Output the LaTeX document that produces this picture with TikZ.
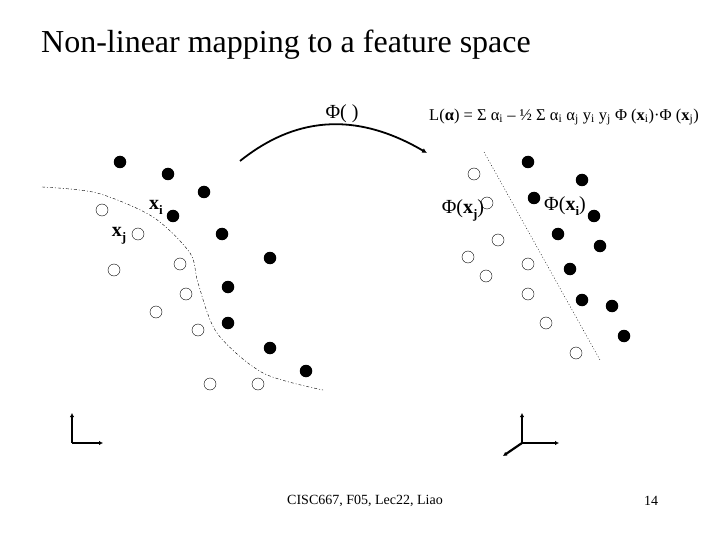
\documentclass[tikz,border=0pt]{standalone}
\usepackage{fontspec}
\setmainfont{Liberation Serif}
\usetikzlibrary{positioning,arrows.meta}

\begin{document}
\begin{tikzpicture}[x=1pt,y=-1pt,
  posdot/.style={circle,fill=black,inner sep=0pt,minimum size=12.5pt},
  negdot/.style={circle,draw=black,fill=white,thin,inner sep=0pt,minimum size=12pt},
  lbl/.style={font=\fontsize{20}{24}\selectfont,inner sep=0pt},
  axis/.style={line width=2.2pt,-{Latex[length=4pt,width=4.5pt]}}]
\useasboundingbox[fill=white] (0,0) rectangle (720,540);
\node[font=\fontsize{32}{38}\selectfont] (title) at (286,45) {Non-linear mapping to a feature space};
\node[lbl] (phimap) at (342,114) {Φ( )};
\node[font=\fontsize{16.5}{20}\selectfont] (lagr) at (564,117) {L(\textbf{α}) = Σ α\textsubscript{i} – ½ Σ α\textsubscript{i} α\textsubscript{j} y\textsubscript{i} y\textsubscript{j} Φ (\textbf{x}\textsubscript{i})·Φ (\textbf{x}\textsubscript{j})};
\coordinate (mapstart) at (240,161);
\coordinate (mapend) at (427,153);
\draw[line width=1.8pt,-{Latex[length=5pt,width=5pt]}] (mapstart) .. controls (285,125) and (345,105) .. (mapend);
\draw[thin,dash pattern=on 3pt off 2pt on 1pt off 2pt] plot[smooth] coordinates {(42,187) (97,193) (153,217) (190,253) (198,283) (217,333) (263,373) (323,390)};
\coordinate (sepa) at (484,152);
\coordinate (sepb) at (600,360);
\draw[thin,dash pattern=on 1pt off 2pt] (sepa) -- (sepb);
\foreach \x/\y [count=\n] in {120/162,168/174,204/192,173/216,222/234,270/258,228/287,228/323,270/348,306/371}
  \node[posdot] (p\n) at (\x,\y) {};
\foreach \x/\y [count=\n] in {102/210,138/234,114/270,180/264,186/294,156/312,198/330,210/384,258/384}
  \node[negdot] (q\n) at (\x,\y) {};
\foreach \x/\y [count=\n] in {528/162,582/180,534/198,594/216,558/234,600/246,570/269,582/300,612/306,624/336}
  \node[posdot] (fp\n) at (\x,\y) {};
\foreach \x/\y [count=\n] in {474/174,487/203,498/240,468/257,486/276,528/264,528/294,546/323,576/353}
  \node[negdot] (fq\n) at (\x,\y) {};
\node[lbl] (xi) at (156,207) {\textbf{x}\raisebox{-5pt}{\fontsize{13}{15}\selectfont\textbf{i}}};
\node[lbl] (xj) at (119,236) {\textbf{x}\raisebox{-5pt}{\fontsize{13}{15}\selectfont\textbf{j}}};
\node[lbl] (phixj) at (463,210) {Φ(\textbf{x}\raisebox{-5pt}{\fontsize{13}{15}\selectfont\textbf{j}})};
\node[lbl] (phixi) at (565,206) {Φ(\textbf{x}\raisebox{-5pt}{\fontsize{13}{15}\selectfont\textbf{i}})};
\coordinate (oa) at (72,443);
\coordinate (oay) at (72,413);
\coordinate (oax) at (103,443);
\draw[axis] (oa) -- (oay);
\draw[axis] (oa) -- (oax);
\coordinate (ob) at (522,443);
\coordinate (oby) at (522,413);
\coordinate (obx) at (559,443);
\coordinate (obz) at (503,456);
\draw[axis] (ob) -- (oby);
\draw[axis] (ob) -- (obx);
\draw[axis] (ob) -- (obz);
\node[font=\fontsize{14}{17}\selectfont] (footer) at (365,501) {CISC667, F05, Lec22, Liao};
\node[font=\fontsize{14}{17}\selectfont] (pagenum) at (651,501) {14};
\end{tikzpicture}
\end{document}
